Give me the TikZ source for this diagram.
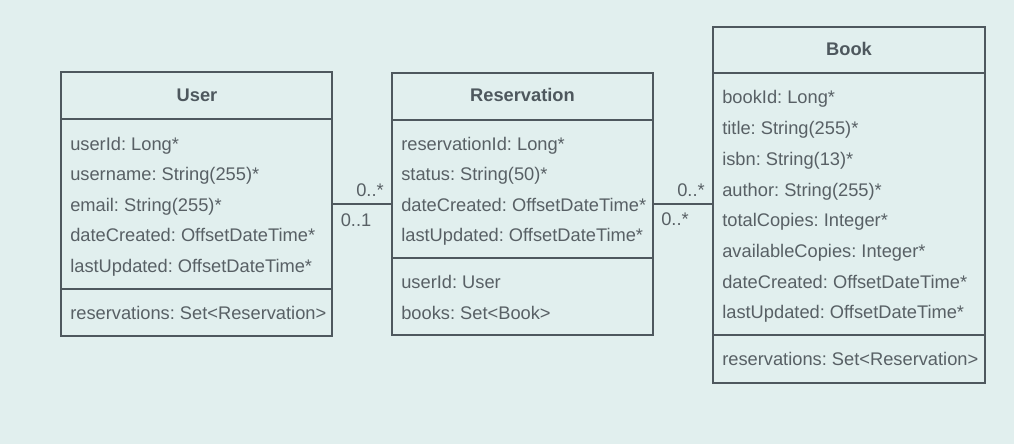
\documentclass[tikz,border=0pt]{standalone}
\usepackage{fontspec}
\setmainfont{Liberation Sans}
\usetikzlibrary{calc}
\definecolor{BgMint}{RGB}{225,239,238}
\definecolor{BoxSlate}{RGB}{78,88,94}
\definecolor{TextGray}{RGB}{88,96,101}
\frenchspacing

\begin{document}
\begin{tikzpicture}[x=0.025cm,y=-0.025cm,
  classbox/.style={draw=BoxSlate,line width=1.3pt,inner sep=0pt},
  classtitle/.style={anchor=base,inner sep=0pt,font=\fontsize{13}{15}\selectfont\bfseries,text=BoxSlate},
  attr/.style={anchor=base west,inner sep=0pt,font=\fontsize{13}{15}\selectfont,text=TextGray},
  mult/.style={anchor=base,inner sep=0pt,font=\fontsize{13}{15}\selectfont,text=TextGray},
  link/.style={draw=BoxSlate,line width=1.3pt}]
\useasboundingbox (0,0) rectangle (1014,444);
\fill[BgMint] (0,0) rectangle (1014,444);

% class boxes
\node[classbox,minimum width=6.775cm,minimum height=6.6cm] (user) at (196.5,204){};
\node[classbox,minimum width=6.525cm,minimum height=6.55cm] (res) at (522.5,204){};
\node[classbox,minimum width=6.8cm,minimum height=8.9cm] (book) at (849,205){};

% compartments
\draw[link] (user.west |- 0,119) -- (user.east |- 0,119);
\draw[link] (user.west |- 0,289) -- (user.east |- 0,289);
\draw[link] (res.west |- 0,120) -- (res.east |- 0,120);
\draw[link] (res.west |- 0,258) -- (res.east |- 0,258);
\draw[link] (book.west |- 0,73) -- (book.east |- 0,73);
\draw[link] (book.west |- 0,335) -- (book.east |- 0,335);

% titles
\node[classtitle] (user-t) at (197,102){User};
\node[classtitle] (res-t) at (522.5,102){Reservation};
\node[classtitle] (book-t) at (849,56){Book};

% attributes
\foreach \txt [count=\i] in {userId: Long*,username: String(255)*,email: String(255)*,dateCreated: OffsetDateTime*,lastUpdated: OffsetDateTime*}
  \node[attr] (user-a\i) at (70,{150.5+30.4*(\i-1)}){\txt};
\node[attr] (user-r1) at (70,320){reservations: Set<Reservation>};

\foreach \txt [count=\i] in {reservationId: Long*,status: String(50)*,dateCreated: OffsetDateTime*,lastUpdated: OffsetDateTime*}
  \node[attr] (res-a\i) at (401,{150.5+30.5*(\i-1)}){\txt};
\node[attr] (res-r1) at (401,288.5){userId: User};
\node[attr] (res-r2) at (401,319.5){books: Set<Book>};

\foreach \txt [count=\i] in {bookId: Long*,title: String(255)*,isbn: String(13)*,author: String(255)*,totalCopies: Integer*,availableCopies: Integer*,dateCreated: OffsetDateTime*,lastUpdated: OffsetDateTime*}
  \node[attr] (book-a\i) at (722,{104+30.7*(\i-1)}){\txt};
\node[attr] (book-r1) at (722,366){reservations: Set<Reservation>};

% associations
\draw[link] (user.east) -- (res.west);
\draw[link] (res.east) -- (res.east -| book.west);
\node[mult] (m1) at (370,197){0..*};
\node[mult] (m2) at (356,226.5){0..1};
\node[mult] (m3) at (691,197){0..*};
\node[mult] (m4) at (675,226){0..*};
\end{tikzpicture}
\end{document}
